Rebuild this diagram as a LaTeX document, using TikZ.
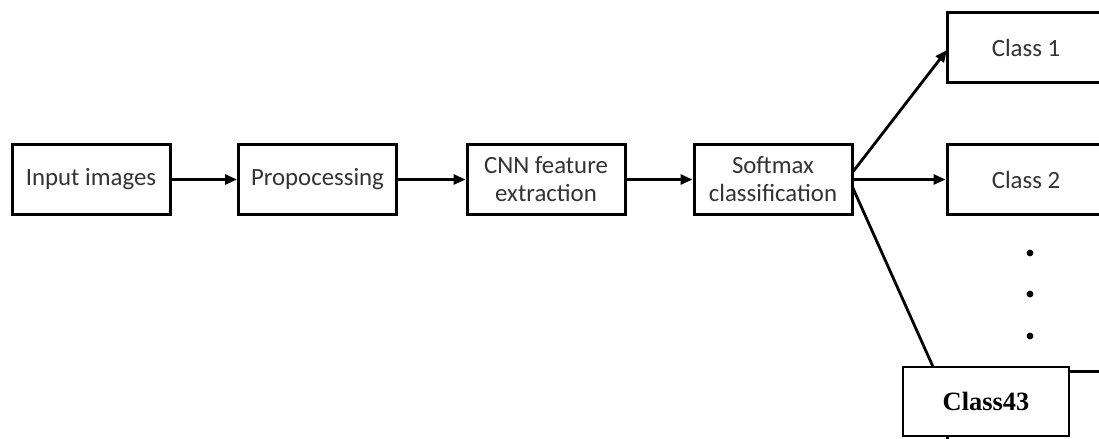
\documentclass[tikz,border=0pt]{standalone}
\usepackage{fontspec}
\setmainfont{Carlito}
\newfontfamily\timesfont{Liberation Serif}
\usetikzlibrary{arrows.meta}
\definecolor{txtgray}{HTML}{333333}
\begin{document}
\begin{tikzpicture}[x=0.5pt,y=-0.5pt,
  blockbox/.style={draw=black,line width=1.5pt,fill=white,minimum width=79pt,minimum height=35pt,inner sep=0pt,align=center,
    font=\fontsize{12.4}{14}\selectfont,text=txtgray},
  conn/.style={line width=1.4pt,-{Triangle[length=6pt,width=5pt]}},
  dotmark/.style={fill=black}]
\useasboundingbox (0,0) rectangle (1099,439);
\fill[white] (0,0) rectangle (1099,439);
\node[blockbox] (inp) at (91,179.5) {Input images};
\node[blockbox] (pre) at (317.5,179.5) {Propocessing};
\node[blockbox] (cnn) at (546,179.5) {CNN feature\\extraction};
\node[blockbox] (soft) at (773,179.5) {Softmax\\classification};
\node[blockbox] (c1) at (1026,47.5) {Class 1};
\node[blockbox] (c2) at (1026,179.5) {Class 2};
\node[blockbox] (cn) at (1026,406) {};
\draw[conn] (inp) -- (pre);
\draw[conn] (pre) -- (cnn);
\draw[conn] (cnn) -- (soft);
\coordinate (s1) at (852,173);
\coordinate (s3) at (852,186);
\coordinate (t1) at (947,50);
\coordinate (tn) at (947,398);
\draw[conn] (s1) -- (t1);
\draw[conn] (soft) -- (c2);
\draw[conn] (s3) -- (tn);
\fill[dotmark] (1030,253) circle (1.7pt);
\fill[dotmark] (1030,294) circle (1.7pt);
\fill[dotmark] (1030,336) circle (1.7pt);
\node[draw=black,line width=1pt,fill=white,minimum width=83pt,minimum height=34.5pt,inner sep=0pt,
  font=\timesfont\bfseries\fontsize{13.2}{15}\selectfont] (c43) at (986,401.5) {Class43};
\end{tikzpicture}
\end{document}
